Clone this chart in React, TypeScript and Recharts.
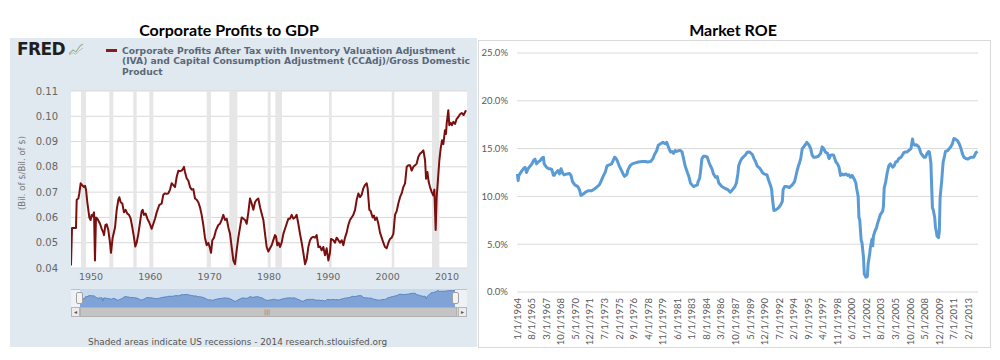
import React from 'react';
import { LineChart, Line, XAxis, YAxis, CartesianGrid, ReferenceArea, AreaChart, Area } from 'recharts';

// ---------- Left chart: Corporate profits / GDP (FRED) ----------
const profitYears = [
  1946.63, 1946.8, 1947.47, 1947.59, 1947.87, 1948.03, 1948.26, 1948.6, 1948.82, 1948.99, 1949.16, 1949.38, 1949.55, 1949.72, 1949.94,
  1950.11, 1950.28, 1950.51, 1950.67, 1950.84, 1951.07, 1951.52, 1951.8, 1952.08, 1952.19, 1952.42, 1952.64, 1952.92, 1953.2, 1953.37,
  1953.65, 1954.05, 1954.33, 1954.61, 1954.78, 1955.0, 1955.28, 1955.56, 1955.84, 1956.12, 1956.41, 1956.69, 1956.97, 1957.25, 1957.47,
  1957.7, 1957.98, 1958.26, 1958.54, 1958.71, 1958.93, 1959.21, 1959.5, 1959.83, 1960.23, 1960.51, 1960.79, 1961.07, 1961.52, 1961.91,
  1962.19, 1962.47, 1962.75, 1963.03, 1963.32, 1963.6, 1963.88, 1964.16, 1964.44, 1964.72, 1965.0, 1965.28, 1965.45, 1965.67, 1965.84,
  1966.12, 1966.41, 1966.69, 1966.97, 1967.25, 1967.53, 1967.81, 1968.09, 1968.37, 1968.65, 1968.93, 1969.21, 1969.5, 1969.78, 1970.06,
  1970.23, 1970.45, 1970.73, 1971.07, 1971.46, 1971.74, 1972.02, 1972.3, 1972.59, 1972.87, 1973.15, 1973.43, 1973.71, 1973.99, 1974.27,
  1974.55, 1974.83, 1975.11, 1975.39, 1975.68, 1975.96, 1976.24, 1976.52, 1976.8, 1977.08, 1977.36, 1977.64, 1977.92, 1978.2, 1978.49,
  1978.77, 1979.05, 1979.33, 1979.61, 1979.89, 1980.17, 1980.45, 1980.73, 1981.01, 1981.18, 1981.4, 1981.63, 1981.85, 1982.13, 1982.42,
  1982.7, 1982.98, 1983.26, 1983.54, 1983.82, 1984.1, 1984.38, 1984.66, 1984.94, 1985.23, 1985.51, 1985.79, 1986.07, 1986.35, 1986.63,
  1986.91, 1987.19, 1987.47, 1987.75, 1988.04, 1988.32, 1988.6, 1988.88, 1989.16, 1989.44, 1989.72, 1990.0, 1990.28, 1990.45, 1990.84,
  1991.12, 1991.4, 1991.69, 1991.97, 1992.25, 1992.53, 1992.81, 1993.09, 1993.37, 1993.65, 1993.93, 1994.21, 1994.5, 1994.78, 1995.06,
  1995.34, 1995.62, 1995.9, 1996.18, 1996.46, 1996.63, 1996.91, 1997.14, 1997.47, 1997.7, 1997.87, 1998.15, 1998.43, 1998.71, 1998.99,
  1999.27, 1999.55, 1999.83, 2000.12, 2000.4, 2000.68, 2000.96, 2001.24, 2001.52, 2001.8, 2002.08, 2002.36, 2002.64, 2002.93, 2003.21,
  2003.49, 2003.77, 2004.05, 2004.33, 2004.61, 2004.89, 2005.17, 2005.45, 2005.74, 2006.02, 2006.3, 2006.47, 2006.69, 2006.92, 2007.14,
  2007.42, 2007.7, 2007.87, 2008.09, 2008.26, 2008.43, 2008.71, 2008.93, 2009.16, 2009.38, 2009.66, 2009.83, 2009.94, 2010.22, 2010.39,
  2010.62, 2010.84, 2011.07, 2011.35, 2011.63, 2011.91, 2012.19, 2012.47, 2012.8, 2013.2,
];
const profitValues = [
  0.041, 0.0558, 0.0558, 0.067, 0.0675, 0.0695, 0.0735, 0.0725, 0.072, 0.0725, 0.071, 0.066, 0.063, 0.06, 0.059,
  0.061, 0.0605, 0.062, 0.043, 0.06, 0.0595, 0.0575, 0.0555, 0.054, 0.053, 0.057, 0.0573, 0.055, 0.05, 0.046,
  0.052, 0.056, 0.063, 0.067, 0.068, 0.066, 0.0655, 0.062, 0.063, 0.0615, 0.061, 0.0595, 0.056, 0.052, 0.0485,
  0.05, 0.0535, 0.058, 0.0625, 0.063, 0.061, 0.0615, 0.0595, 0.058, 0.0555, 0.0575, 0.0595, 0.062, 0.065, 0.0655,
  0.069, 0.0695, 0.0693, 0.0695, 0.071, 0.0735, 0.0728, 0.072, 0.076, 0.0785, 0.0783, 0.0785, 0.079, 0.08, 0.078,
  0.0755, 0.0745, 0.072, 0.071, 0.0712, 0.0675, 0.067, 0.066, 0.064, 0.061, 0.057, 0.052, 0.049, 0.05, 0.0478,
  0.046, 0.051, 0.052, 0.055, 0.057, 0.0575, 0.059, 0.061, 0.059, 0.0595, 0.056, 0.0535, 0.0483, 0.043, 0.0415,
  0.047, 0.052, 0.056, 0.06, 0.0595, 0.059, 0.0575, 0.062, 0.0675, 0.0655, 0.063, 0.066, 0.067, 0.0675, 0.064,
  0.0615, 0.059, 0.0535, 0.0483, 0.0465, 0.0478, 0.049, 0.051, 0.053, 0.0525, 0.049, 0.05, 0.0483, 0.05, 0.0535,
  0.0555, 0.0575, 0.0595, 0.0595, 0.061, 0.0595, 0.06, 0.061, 0.0575, 0.0535, 0.05, 0.046, 0.0415, 0.0435, 0.0483,
  0.051, 0.052, 0.0523, 0.052, 0.053, 0.0483, 0.0485, 0.047, 0.0483, 0.045, 0.0478, 0.043, 0.046, 0.0515, 0.051,
  0.05, 0.052, 0.051, 0.05, 0.051, 0.049, 0.052, 0.054, 0.057, 0.059, 0.06, 0.061, 0.063, 0.067, 0.0695,
  0.068, 0.069, 0.0715, 0.0728, 0.0735, 0.0715, 0.063, 0.0625, 0.06, 0.0607, 0.059, 0.06, 0.0575, 0.054, 0.052,
  0.05, 0.0483, 0.0478, 0.05, 0.0515, 0.052, 0.0535, 0.061, 0.0625, 0.0655, 0.068, 0.0695, 0.072, 0.0735, 0.08,
  0.0806, 0.0806, 0.0785, 0.08, 0.0806, 0.0813, 0.084, 0.0852, 0.0858, 0.0865, 0.0826, 0.0753, 0.078, 0.074, 0.072,
  0.07, 0.0687, 0.071, 0.055, 0.068, 0.0735, 0.0826, 0.0872, 0.0905, 0.089, 0.0945, 0.093, 0.097, 0.1024, 0.0965,
  0.0974, 0.0965, 0.0978, 0.097, 0.099, 0.0997, 0.1008, 0.1013, 0.1005, 0.1024,
];
const recessionStarts = [1948.32, 1953.09, 1957.13, 1959.83, 1969.5, 1973.32, 1979.78, 1981.07, 1990.11, 2000.68, 2007.47];
const recessionEnds = [1949.16, 1953.76, 1957.7, 1960.51, 1970.23, 1974.66, 1980.28, 1982.19, 1990.56, 2001.12, 2008.71];
const profitYearTicks = [1950, 1960, 1970, 1980, 1990, 2000, 2010];
const profitValueTicks = [0.04, 0.05, 0.06, 0.07, 0.08, 0.09, 0.1, 0.11];
const navigatorTicks = [1950, 1975, 2000];
const legendLines = [
  'Corporate Profits After Tax with Inventory Valuation Adjustment',
  '(IVA) and Capital Consumption Adjustment (CCAdj)/Gross Domestic',
  'Product',
];

// ---------- Right chart: Market ROE (monthly, months since Jan 1964) ----------
const roeMonths = [
  0, 1, 2, 6, 8, 10, 12, 14, 17, 19, 21, 23, 25, 27, 30, 32, 34, 35, 38, 41, 43, 45, 47, 48, 50, 53, 55, 57, 59, 61,
  65, 68, 70, 72, 75, 79, 81, 83, 86, 89, 93, 97, 101, 104, 107, 109, 112, 115, 117, 120, 123, 125, 127, 129, 131, 133, 136, 138, 140, 143,
  144, 147, 150, 154, 158, 163, 167, 170, 174, 177, 179, 182, 184, 187, 190, 193, 195, 198, 200, 202, 204, 206, 208, 211, 213, 215, 217, 219, 222, 224,
  226, 228, 230, 232, 235, 236, 238, 239, 241, 243, 245, 248, 250, 252, 254, 256, 259, 261, 263, 267, 272, 275, 278, 281, 284, 286, 287, 288, 289, 291,
  293, 296, 298, 300, 302, 304, 307, 309, 311, 313, 315, 317, 320, 322, 324, 326, 328, 331, 332, 333, 334, 335, 338, 341, 344, 346, 347, 349, 352, 355,
  359, 362, 364, 365, 367, 368, 370, 372, 374, 376, 378, 381, 383, 385, 387, 390, 393, 396, 398, 400, 402, 405, 407, 409, 411, 413, 416, 418, 420, 422,
  424, 426, 429, 431, 433, 435, 437, 440, 442, 443, 445, 446, 447, 449, 450, 452, 453, 455, 457, 458, 460, 461, 463, 464, 465, 467, 469, 470, 472, 474,
  477, 478, 479, 481, 483, 485, 487, 490, 492, 494, 496, 498, 501, 503, 505, 507, 509, 511, 514, 516, 517, 519, 521, 524, 525, 527, 529, 531, 533, 535,
  537, 538, 540, 541, 542, 543, 545, 546, 547, 548, 550, 551, 552, 553, 554, 555, 556, 558, 559, 562, 564, 566, 568, 570, 572, 575, 577, 579, 581, 583,
  586, 588, 590, 592, 594, 596, 599, 601,
];
const roeValues = [
  12.35, 11.65, 12.2, 12.7, 12.9, 13.05, 12.5, 12.9, 13.2, 13.4, 13.75, 13.9, 13.4, 13.6, 13.75, 14.0, 14.1, 13.4, 13.05, 12.9, 12.9, 12.8, 12.2, 12.2, 12.45, 12.7, 12.35, 12.9, 12.45, 12.25,
  12.35, 12.4, 12.2, 11.55, 11.2, 11.03, 10.7, 10.1, 10.25, 10.45, 10.6, 10.6, 10.8, 11.0, 11.2, 11.55, 12.1, 12.6, 13.2, 13.3, 13.4, 13.75, 14.1, 13.95, 13.6, 13.2, 12.7, 12.35, 12.1, 12.3,
  12.7, 13.2, 13.4, 13.5, 13.6, 13.65, 13.65, 13.6, 13.65, 13.95, 14.35, 14.8, 15.35, 15.5, 15.65, 15.5, 15.65, 15.0, 14.65, 14.7, 14.5, 14.8, 14.7, 14.8, 14.8, 14.65, 13.95, 13.2, 12.5, 12.07,
  11.4, 11.2, 11.03, 11.1, 11.2, 11.55, 11.9, 12.5, 13.95, 14.2, 14.2, 14.1, 13.6, 13.2, 12.9, 12.35, 12.0, 12.07, 11.4, 11.03, 10.8, 10.7, 10.45, 10.7, 11.03, 11.4, 11.9, 12.4, 13.2, 13.65,
  13.95, 14.2, 14.35, 14.6, 14.65, 14.6, 14.35, 13.95, 13.65, 13.2, 13.05, 12.9, 12.5, 12.35, 12.3, 12.24, 11.72, 11.03, 10.7, 9.83, 9.14, 8.52, 8.62, 8.8, 9.14, 9.48, 10.7, 11.03, 11.03, 10.93,
  11.2, 11.55, 12.24, 12.6, 13.2, 13.4, 13.95, 15.0, 15.2, 15.4, 15.65, 15.35, 15.0, 14.3, 14.1, 14.1, 14.2, 14.5, 15.18, 15.0, 14.65, 14.5, 13.95, 14.3, 14.35, 14.3, 13.6, 13.4, 13.05, 12.2,
  12.35, 12.25, 12.35, 12.2, 12.25, 12.0, 12.2, 11.8, 11.4, 10.86, 10.0, 7.76, 7.6, 5.34, 5.17, 3.6, 1.9, 1.55, 1.62, 2.93, 3.97, 4.66, 5.52, 4.83, 5.86, 6.38, 6.72, 7.07, 7.59, 8.1,
  8.45, 8.97, 10.86, 11.55, 12.5, 13.2, 13.4, 13.05, 13.2, 13.6, 13.65, 13.95, 14.1, 14.35, 14.6, 14.65, 14.65, 14.8, 15.0, 16.0, 15.5, 15.35, 15.4, 15.2, 15.0, 14.5, 14.3, 14.1, 14.1, 14.5,
  14.7, 14.65, 13.5, 11.0, 8.8, 8.62, 7.76, 6.72, 6.38, 5.86, 5.69, 6.38, 9.83, 10.7, 11.55, 12.6, 13.6, 14.3, 14.7, 14.8, 15.0, 15.2, 15.5, 16.05, 16.0, 15.8, 15.5, 15.07, 14.5, 14.1,
  13.95, 13.9, 14.0, 14.1, 14.1, 14.1, 14.6, 14.7,
];
const roeTickLabels = [
  '1/1/1964', '8/1/1965', '3/1/1967', '10/1/1968', '5/1/1970', '12/1/1971', '7/1/1973', '2/1/1975',
  '9/1/1976', '4/1/1978', '11/1/1979', '6/1/1981', '1/1/1983', '8/1/1984', '3/1/1986', '10/1/1987',
  '5/1/1989', '12/1/1990', '7/1/1992', '2/1/1994', '9/1/1995', '4/1/1997', '11/1/1998', '6/1/2000',
  '1/1/2002', '8/1/2003', '3/1/2005', '10/1/2006', '5/1/2008', '12/1/2009', '7/1/2011', '2/1/2013',
];
const roeValueTicks = [0, 5, 10, 15, 20, 25];

// ---------- derived tables ----------
const profitData = profitYears.map((year, i) => ({ year, v: profitValues[i] }));
const roeData = roeMonths.map((m, i) => ({ m, roe: roeValues[i] }));
const labelMonth = (s: string) => {
  const [mo, , yr] = s.split('/').map(Number);
  return (yr - 1964) * 12 + (mo - 1);
};
const roeTickMonths = roeTickLabels.map(labelMonth);
const roeLabelByMonth: Record<number, string> = {};
roeTickLabels.forEach((s, i) => { roeLabelByMonth[roeTickMonths[i]] = s; });

const FRED_FONT = '"DejaVu Sans", Verdana, sans-serif';
const XL_FONT = 'Lato, "Liberation Sans", sans-serif';

const RoeTick = (props: any) => {
  const { x, y, payload } = props;
  return (
    <g transform={`translate(${x},${y})`}>
      <text transform="rotate(-90)" textAnchor="end" dy="0.35em" fontSize={9.5} fill="#595959" fontFamily={XL_FONT}>
        {roeLabelByMonth[payload.value]}
      </text>
    </g>
  );
};

const abs = (s: React.CSSProperties): React.CSSProperties => ({ position: 'absolute', ...s });

export default function App() {
  return (
    <div style={abs({ left: 0, top: 0, width: 1000, height: 360, background: '#fff', overflow: 'hidden' })}>
      {/* Titles */}
      <div style={abs({ left: 0, top: 20, width: 458, textAlign: 'center', fontFamily: XL_FONT, fontWeight: 700, fontSize: 16, lineHeight: '20px', color: '#000' })}>
        Corporate Profits to GDP
      </div>
      <div style={abs({ left: 633, top: 20, width: 200, textAlign: 'center', fontFamily: XL_FONT, fontWeight: 700, fontSize: 16, lineHeight: '20px', color: '#000' })}>
        Market ROE
      </div>

      {/* FRED panel */}
      <div style={abs({ left: 10, top: 38, width: 467, height: 309, background: '#e1e9f0' })} />
      <div style={abs({ left: 17, top: 41, fontFamily: FRED_FONT, fontWeight: 700, fontSize: 17, lineHeight: '17px', color: '#1f1f1f', letterSpacing: -0.6 })}>
        FRED
      </div>
      <svg style={abs({ left: 68, top: 42, width: 16, height: 14 })} viewBox="0 0 16 14">
        <polyline points="1,12 5,8 8,10 12,4 15,2" fill="none" stroke="#9fb48f" strokeWidth={1.2} />
        <polyline points="1,13 5,11 8,12 12,8 15,6" fill="none" stroke="#b8c4cc" strokeWidth={1} />
      </svg>
      <div style={abs({ left: 106, top: 49, width: 11, height: 3, background: '#8b1a1a' })} />
      <div style={abs({ left: 122, top: 45.5, fontFamily: FRED_FONT, fontWeight: 700, fontSize: 9.2, lineHeight: '10.7px', color: '#5a6878', whiteSpace: 'nowrap' })}>
        {legendLines.map((l, i) => (<div key={i}>{l}</div>))}
      </div>
      <div style={abs({ left: 22 - 60, top: 173 - 6, width: 120, height: 12, lineHeight: '12px', textAlign: 'center', transform: 'rotate(-90deg)', fontFamily: FRED_FONT, fontSize: 8.5, color: '#777' })}>
        (Bil. of $/Bil. of $)
      </div>

      <div style={abs({ left: 0, top: 80 })}>
        <LineChart width={480} height={220} data={profitData} margin={{ top: 11, right: 13, bottom: 0, left: 0 }}>
          <CartesianGrid vertical={false} stroke="#d9d9d9" fill="#ffffff" />
          {recessionStarts.map((s, i) => (
            <ReferenceArea key={i} x1={s} x2={recessionEnds[i]} fill="#e6e6e6" fillOpacity={1} stroke="none" ifOverflow="hidden" />
          ))}
          <XAxis dataKey="year" type="number" domain={[1946.63, 2013.37]} ticks={profitYearTicks} allowDataOverflow
            axisLine={false} tickLine={false} tickSize={3} tickMargin={2} height={32}
            tick={{ fill: '#666', fontSize: 9.5, fontFamily: FRED_FONT }} />
          <YAxis type="number" domain={[0.04, 0.11]} ticks={profitValueTicks} width={71} allowDataOverflow
            axisLine={false} tickLine={false} tickMargin={7}
            tickFormatter={(v: number) => v.toFixed(2)}
            tick={{ fill: '#666', fontSize: 10, fontFamily: FRED_FONT }} />
          <Line dataKey="v" type="linear" stroke="#7a0f0f" strokeWidth={2} dot={false} isAnimationActive={false} strokeLinejoin="round" />
        </LineChart>
      </div>

      {/* Navigator */}
      <div style={abs({ left: 71, top: 289, width: 396, height: 18, background: '#eef2f6', borderTop: '1px solid #b7c2cd', boxSizing: 'border-box' })} />
      <div style={abs({ left: 80, top: 289, width: 375, height: 18, background: '#c7d9ee' })} />
      <div style={abs({ left: 80, top: 289 })}>
        <AreaChart width={375} height={18} data={profitData} margin={{ top: 0, right: 0, bottom: 0, left: 0 }}>
          <XAxis dataKey="year" type="number" domain={[1946.63, 2013.2]} ticks={navigatorTicks} mirror height={0}
            axisLine={false} tickLine={false} tickSize={0} tickMargin={1}
            tick={{ fill: 'rgba(110,130,160,0.55)', fontSize: 9, fontFamily: FRED_FONT, textAnchor: 'start', dx: 3 }} />
          <YAxis type="number" domain={[0.01, 0.11]} hide />
          <Area dataKey="v" type="linear" stroke="#5b84bd" strokeWidth={1} fill="#7fa3d6" fillOpacity={1} isAnimationActive={false} />
        </AreaChart>
      </div>
      <div style={abs({ left: 76, top: 292, width: 5, height: 10, background: '#f3f3f3', border: '1px solid #a0a0a0', borderRadius: 2 })} />
      <div style={abs({ left: 452, top: 292, width: 5, height: 10, background: '#f3f3f3', border: '1px solid #a0a0a0', borderRadius: 2 })} />
      {/* Scrollbar */}
      <div style={abs({ left: 71, top: 307, width: 396, height: 10, background: '#d6d6d6', border: '1px solid #bdbdbd', boxSizing: 'border-box' })} />
      <div style={abs({ left: 80, top: 307, width: 377, height: 10, background: '#c4c4c4', boxSizing: 'border-box', border: '1px solid #b0b0b0' })} />
      <div style={abs({ left: 71, top: 307, width: 9, height: 10, background: '#ececec', border: '1px solid #b5b5b5', boxSizing: 'border-box', fontSize: 6, lineHeight: '8px', textAlign: 'center', color: '#555' })}>◂</div>
      <div style={abs({ left: 458, top: 307, width: 9, height: 10, background: '#ececec', border: '1px solid #b5b5b5', boxSizing: 'border-box', fontSize: 6, lineHeight: '8px', textAlign: 'center', color: '#555' })}>▸</div>
      <div style={abs({ left: 262, top: 307, width: 10, height: 10, fontSize: 6, lineHeight: '10px', textAlign: 'center', color: '#777', fontFamily: FRED_FONT })}>|||</div>

      <div style={abs({ left: 88, top: 337, fontFamily: FRED_FONT, fontSize: 8.9, lineHeight: '10px', color: '#555', whiteSpace: 'nowrap' })}>
        Shaded areas indicate US recessions - 2014 research.stlouisfed.org
      </div>

      {/* Right chart box */}
      <div style={abs({ left: 478, top: 40, width: 513, height: 308, background: '#fff', border: '1px solid #d9d9d9', boxSizing: 'border-box' })} />
      <div style={abs({ left: 478, top: 40 })}>
        <LineChart width={513} height={308} data={roeData} margin={{ top: 13, right: 13, bottom: 0, left: 0 }}>
          <CartesianGrid vertical={false} stroke="#d9d9d9" />
          <XAxis dataKey="m" type="number" domain={[-0.5, 601.5]} ticks={roeTickMonths} interval={0}
            axisLine={false} tickLine={false} tickSize={0} tickMargin={6} height={56} tick={<RoeTick />} />
          <YAxis type="number" domain={[0, 25]} ticks={roeValueTicks} width={39}
            axisLine={false} tickLine={false} tickSize={0} tickMargin={9}
            tickFormatter={(v: number) => v.toFixed(1) + '%'}
            tick={{ fill: '#595959', fontSize: 9.5, fontFamily: XL_FONT }} />
          <Line dataKey="roe" type="linear" stroke="#5b9bd5" strokeWidth={3} dot={false} isAnimationActive={false} strokeLinejoin="round" />
        </LineChart>
      </div>
    </div>
  );
}
